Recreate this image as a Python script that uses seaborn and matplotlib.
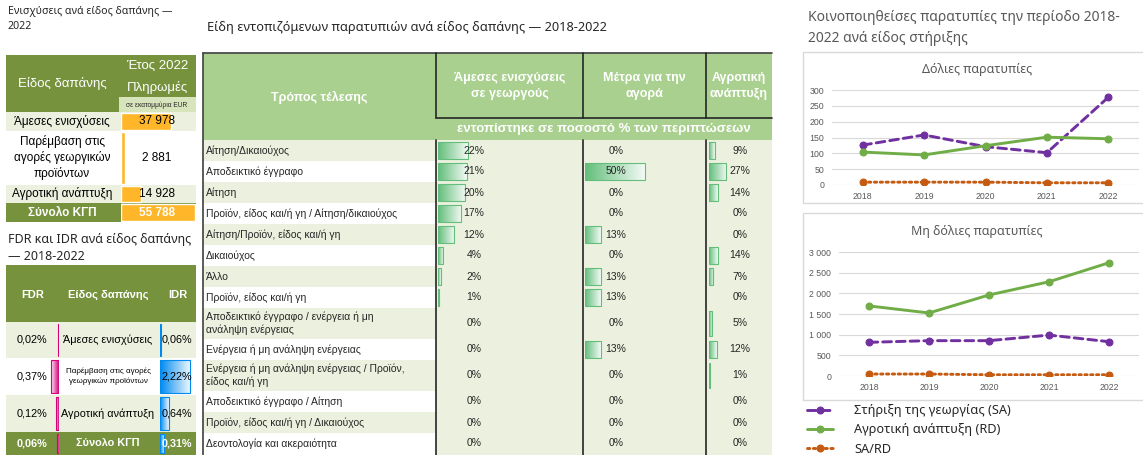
import numpy as np
import pandas as pd
import matplotlib
matplotlib.use("Agg")
import matplotlib.pyplot as plt
import seaborn as sns
from matplotlib.colors import LinearSegmentedColormap
from matplotlib.patches import Rectangle
from matplotlib.ticker import FuncFormatter

# ---- data ----
spend_types = ["Άμεσες ενισχύσεις", "Παρέμβαση στις\nαγορές γεωργικών\nπροϊόντων", "Αγροτική ανάπτυξη", "Σύνολο ΚΓΠ"]
payments_2022 = [37978, 2881, 14928, 55788]

fdr_types = ["Άμεσες ενισχύσεις", "Παρέμβαση στις αγορές\nγεωργικών προϊόντων", "Αγροτική ανάπτυξη", "Σύνολο ΚΓΠ"]
fdr = [0.02, 0.37, 0.12, 0.06]
idr = [0.06, 2.22, 0.64, 0.31]

modes = [
    "Αίτηση/Δικαιούχος",
    "Αποδεικτικό έγγραφο",
    "Αίτηση",
    "Προϊόν, είδος και/ή γη / Αίτηση/δικαιούχος",
    "Αίτηση/Προϊόν, είδος και/ή γη",
    "Δικαιούχος",
    "Άλλο",
    "Προϊόν, είδος και/ή γη",
    "Αποδεικτικό έγγραφο / ενέργεια ή μη\nανάληψη ενέργειας",
    "Ενέργεια ή μη ανάληψη ενέργειας",
    "Ενέργεια ή μη ανάληψη ενέργειας / Προϊόν,\nείδος και/ή γη",
    "Αποδεικτικό έγγραφο / Αίτηση",
    "Προϊόν, είδος και/ή γη / Δικαιούχος",
    "Δεοντολογία και ακεραιότητα",
]
direct_pct = [22, 21, 20, 17, 12, 4, 2, 1, 0, 0, 0, 0, 0, 0]
market_pct = [0, 50, 0, 0, 13, 0, 13, 13, 0, 13, 0, 0, 0, 0]
rural_pct = [9, 27, 14, 0, 0, 14, 7, 0, 5, 12, 1, 0, 0, 0]
col_headers = ["Άμεσες ενισχύσεις\nσε γεωργούς", "Μέτρα για την\nαγορά", "Αγροτική\nανάπτυξη"]

years = ["2018", "2019", "2020", "2021", "2022"]
fraud_sa = [126, 158, 121, 102, 277]
fraud_rd = [104, 95, 124, 151, 146]
fraud_ratio = [9, 9, 9, 7, 7]
nonfraud_sa = [815, 855, 855, 990, 830]
nonfraud_rd = [1695, 1525, 1960, 2280, 2740]
nonfraud_ratio = [48, 48, 30, 30, 30]
series_names = ["Στήριξη της γεωργίας (SA)", "Αγροτική ανάπτυξη (RD)", "SA/RD"]

# ---- style ----
sns.set_theme(style="white")
plt.rcParams["font.family"] = ["Liberation Sans", "DejaVu Sans"]
TITLE_FONT = ["Noto Sans", "DejaVu Sans"]
OLIVE = "#76923C"
LIGHT = "#EBF1DE"
HDR_GREEN = "#A9D08E"
GREY = "#595959"

W, H = 1143, 455
fig = plt.figure(figsize=(W / 100, H / 100), dpi=100)
bg = fig.add_axes([0, 0, 1, 1])
bg.set_xlim(0, W)
bg.set_ylim(H, 0)
bg.axis("off")
# overlay for text drawn above the data bars
top = fig.add_axes([0, 0, 1, 1], zorder=10)
top.set_xlim(0, W)
top.set_ylim(H, 0)
top.axis("off")


def rect(x0, y0, x1, y1, fc, ec="none", lw=0, z=1):
    bg.add_patch(Rectangle((x0, y0), x1 - x0, y1 - y0, facecolor=fc, edgecolor=ec, linewidth=lw, zorder=z))


def sub_ax(x0, y0, x1, y1):
    ax = fig.add_axes([x0 / W, 1 - y1 / H, (x1 - x0) / W, (y1 - y0) / H])
    ax.axis("off")
    return ax


def gradient_bars(ax, bars, color):
    cmap = LinearSegmentedColormap.from_list("db", [color, "#FFFFFF"])
    g = np.linspace(0, 0.92, 100)[None, :]
    xl, yl = ax.get_xlim(), ax.get_ylim()
    for b in bars:
        w = b.get_width()
        if w == 0:
            b.set_linewidth(0)
            continue
        x0, y0, h = b.get_x(), b.get_y(), b.get_height()
        im = ax.imshow(g, cmap=cmap, vmin=0, vmax=1, extent=(x0, x0 + w, y0 + h, y0),
                       aspect="auto", zorder=1, interpolation="bilinear")
        im.set_clip_path(b)
        b.set_facecolor("none")
        b.set_edgecolor(color)
        b.set_linewidth(0.8)
        b.set_zorder(2)
    ax.set_xlim(xl)
    ax.set_ylim(yl)


def row_layout(y_top, heights):
    edges = np.concatenate([[y_top], y_top + np.cumsum(heights)])
    return edges, (edges[:-1] + edges[1:]) / 2


# ================= Table 1 =================
top.text(8, 19, "Ενισχύσεις ανά είδος δαπάνης —\n2022", family=TITLE_FONT, fontsize=7.6,
         va="center", ha="left", linespacing=1.5, color="#262626")
rect(6, 55, 196, 112, OLIVE)
rect(119, 97, 196, 112, "#D8E4BC")
top.text(62, 84, "Είδος δαπάνης", color="white", fontsize=9.5, ha="center", va="center")
top.text(157, 66, "Έτος 2022", color="white", fontsize=9.5, ha="center", va="center")
top.text(157, 88, "Πληρωμές", color="white", fontsize=9.5, ha="center", va="center")
top.text(157, 105, "σε εκατομμύρια EUR", color="#262626", fontsize=4.8, ha="center", va="center")

t1_edges, t1_centers = row_layout(112, [19, 54, 18, 19])
t1_bgs = [LIGHT, "white", LIGHT, OLIVE]
for i, name in enumerate(spend_types):
    rect(6, t1_edges[i], 196, t1_edges[i + 1], t1_bgs[i])
    last = i == len(spend_types) - 1
    top.text(62, t1_centers[i], name, ha="center", va="center", fontsize=8.5,
             color="white" if last else "black", fontweight="bold" if last else "normal", linespacing=1.3)

ax1 = sub_ax(121, 112, 196, 222)
ax1.barh(t1_centers, payments_2022, height=np.diff(t1_edges) - 2, color="#FFB628", zorder=1)
ax1.set_xlim(0, 56500)
ax1.set_ylim(222, 112)
for i, v in enumerate(payments_2022):
    last = i == len(payments_2022) - 1
    top.text(157, t1_centers[i], f"{v:,}".replace(",", " "), ha="center", va="center", fontsize=8.5,
             color="white" if last else "black", fontweight="bold" if last else "normal")

# ================= Table 2 =================
top.text(8, 248, "FDR και IDR ανά είδος δαπάνης\n— 2018-2022", family=TITLE_FONT, fontsize=9,
         va="center", ha="left", linespacing=1.35, color="#262626")
rect(6, 265, 196, 322, OLIVE)
top.text(33, 295, "FDR", color="white", fontsize=8, fontweight="bold", ha="center", va="center")
top.text(108, 295, "Είδος δαπάνης", color="white", fontsize=8, fontweight="bold", ha="center", va="center")
top.text(178, 295, "IDR", color="white", fontsize=8, fontweight="bold", ha="center", va="center")

t2_edges, t2_centers = row_layout(322, [36, 37, 37, 23])
t2_bgs = [LIGHT, "white", LIGHT, OLIVE]
for i, name in enumerate(fdr_types):
    rect(6, t2_edges[i], 196, t2_edges[i + 1], t2_bgs[i])
    last = i == len(fdr_types) - 1
    small = "\n" in name
    kw = dict(ha="center", va="center", color="white" if last else "black",
              fontweight="bold" if last else "normal")
    top.text(108, t2_centers[i], name, fontsize=5.8 if small else 7.8, linespacing=1.4, **kw)
    top.text(32, t2_centers[i], f"{fdr[i]:.2f}%".replace(".", ","), fontsize=7.8, **kw)
    top.text(177, t2_centers[i], f"{idr[i]:.2f}%".replace(".", ","), fontsize=7.8, **kw)

heights2 = np.diff(t2_edges) - 4
ax_fdr = sub_ax(20, 322, 58.5, 455)
bars = ax_fdr.barh(t2_centers, fdr, height=heights2)
ax_fdr.set_xlim(2.0, 0)
ax_fdr.set_ylim(455, 322)
gradient_bars(ax_fdr, bars, "#D6007B")

ax_idr = sub_ax(160, 322, 196, 455)
bars = ax_idr.barh(t2_centers, idr, height=heights2)
ax_idr.set_xlim(0, 2.67)
ax_idr.set_ylim(455, 322)
gradient_bars(ax_idr, bars, "#008AEF")

# ================= Table 3 =================
top.text(207, 27, "Είδη εντοπιζόμενων παρατυπιών ανά είδος δαπάνης — 2018-2022", family=TITLE_FONT,
         fontsize=9.2, va="center", ha="left", color="#262626")
X0, XC1, XC2, XC3, X1 = 203, 436, 583, 706, 772
rect(X0, 53, X1, 140, HDR_GREEN)
top.text((X0 + XC1) / 2, 97, "Τρόπος τέλεσης", color="white", fontsize=9, fontweight="bold",
         ha="center", va="center")
for (a, b), hdr in zip([(XC1, XC2), (XC2, XC3), (XC3, X1)], col_headers):
    top.text((a + b) / 2, 86, hdr, color="white", fontsize=9, fontweight="bold", ha="center", va="center",
             linespacing=1.5)
top.text((XC1 + X1) / 2, 129, "εντοπίστηκε σε ποσοστό % των περιπτώσεων", color="white", fontsize=9.5,
         fontweight="bold", ha="center", va="center")

row_h = [21] * 8 + [31, 21, 31, 21, 21, 21]
t3_edges, t3_centers = row_layout(140, row_h)
for i, name in enumerate(modes):
    rect(X0, t3_edges[i], XC1, t3_edges[i + 1], LIGHT if i % 2 == 0 else "white")
    top.text(206, t3_centers[i], name, fontsize=7.5, ha="left", va="center", linespacing=1.25)
rect(XC1, 140, X1, 455, LIGHT)

# grid lines
bg.plot([X0, X1], [53, 53], color="#404040", lw=1.2, zorder=4)
bg.plot([X0, X0], [53, 455], color="#404040", lw=1.2, zorder=4)
bg.plot([XC1, X1], [118, 118], color="#262626", lw=1.2, zorder=4)
for xv in (XC1, XC2, XC3):
    bg.plot([xv, xv], [53, 118], color="#262626", lw=1.2, zorder=4)
    bg.plot([xv, xv], [140, 455], color="#262626", lw=1.2, zorder=4)

col_specs = [(direct_pct, 438, 136, 474), (market_pct, 585, 120, 616), (rural_pct, 709, 63, 740)]
for vals, left, span, tx in col_specs:
    ax = sub_ax(left, 140, left + span, 454)
    bars = ax.barh(t3_centers, vals, height=np.array(row_h) * 0.8)
    ax.set_xlim(0, 100)
    ax.set_ylim(454, 140)
    gradient_bars(ax, bars, "#63BE7B")
    for c, v in zip(t3_centers, vals):
        top.text(tx, c, f"{v}%", fontsize=7.5, ha="center", va="center")

# ================= Line charts =================
top.text(808, 28, "Κοινοποιηθείσες παρατυπίες την περίοδο 2018-\n2022 ανά είδος στήριξης", family=TITLE_FONT,
         fontsize=10, color=GREY, ha="left", va="center", linespacing=1.5)
rect(803, 52, 1150, 203, "white", ec="#D9D9D9", lw=1)
rect(803, 213, 1150, 400, "white", ec="#D9D9D9", lw=1)

palette = {series_names[0]: "#7030A0", series_names[1]: "#70AD47", series_names[2]: "#C55A11"}
dashes = {series_names[0]: (3, 1.7), series_names[1]: "", series_names[2]: (0.8, 1.2)}
markers = {s: "o" for s in series_names}


def line_chart(rect_px, sa, rd, ratio, ymax, ystep, title, title_y, thousands):
    ax = fig.add_axes([rect_px[0] / W, 1 - rect_px[3] / H, (rect_px[2] - rect_px[0]) / W,
                       (rect_px[3] - rect_px[1]) / H])
    df = pd.DataFrame({
        "year": years * 3,
        "value": sa + rd + ratio,
        "series": [series_names[0]] * 5 + [series_names[1]] * 5 + [series_names[2]] * 5,
    })
    sns.lineplot(data=df, x="year", y="value", hue="series", style="series", palette=palette,
                 dashes=dashes, markers=markers, markersize=5, linewidth=2.1, ax=ax, legend=False)
    for ln in ax.lines:
        ln.set_markeredgecolor(ln.get_color())
        ln.set_dash_capstyle("round")
    ax.set_xlim(-0.5, 4.5)
    ax.set_ylim(0, ymax)
    ax.set_yticks(np.arange(0, ymax + 1, ystep))
    if thousands:
        ax.yaxis.set_major_formatter(FuncFormatter(lambda v, p: f"{int(v):,}".replace(",", " ")))
    ax.grid(axis="y", color="#D9D9D9", lw=0.8)
    ax.set_axisbelow(True)
    sns.despine(ax=ax, left=True, bottom=True)
    ax.patch.set_alpha(0)
    ax.tick_params(axis="y", length=0, labelsize=6.3, labelcolor=GREY, pad=5.5)
    ax.tick_params(axis="x", length=0, labelsize=6.3, labelcolor=GREY, pad=5)
    ax.set_xlabel("")
    ax.set_ylabel("")
    top.text(977, title_y, title, family=TITLE_FONT, fontsize=9, color=GREY, ha="center", va="center")
    return ax


ax_f = line_chart((832, 90, 1139, 185), fraud_sa, fraud_rd, fraud_ratio, 300, 50, "Δόλιες παρατυπίες", 70, False)
ax_n = line_chart((839, 252, 1139, 376), nonfraud_sa, nonfraud_rd, nonfraud_ratio, 3000, 500,
                  "Μη δόλιες παρατυπίες", 232, True)

handles = ax_n.lines[:3]
fig.legend(handles, series_names, loc="upper left", bbox_to_anchor=(807 / W, 1 - 404 / H), frameon=False,
           prop={"family": TITLE_FONT, "size": 9.2}, handlelength=2.0, handletextpad=1.7, labelspacing=0.5,
           borderaxespad=0, borderpad=0)

fig.savefig("out.png", dpi=100)
